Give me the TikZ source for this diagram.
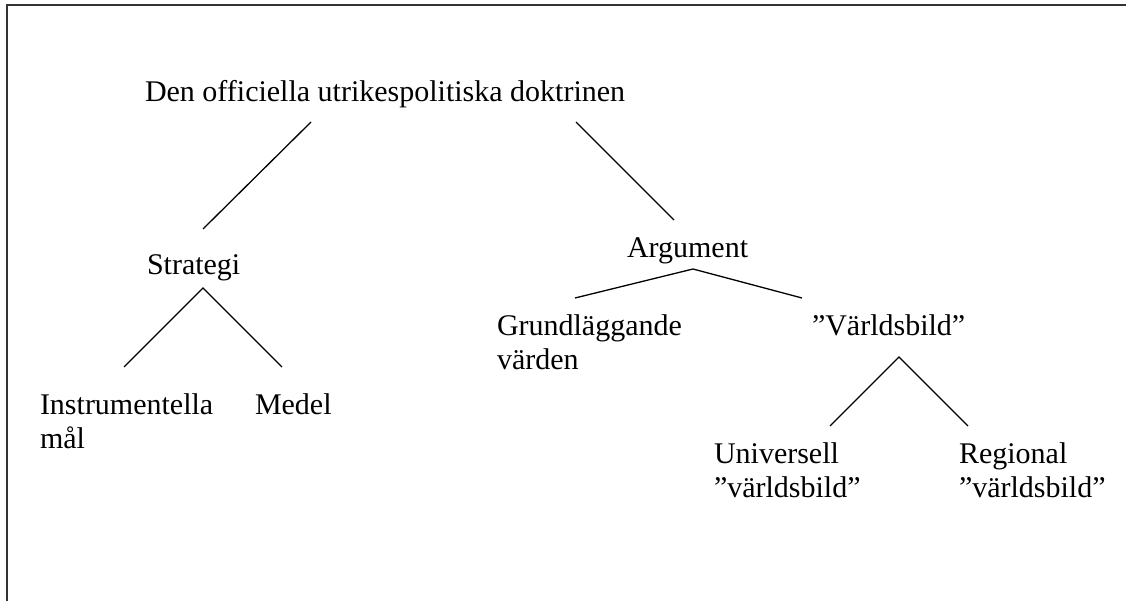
\documentclass[tikz,border=0pt]{standalone}
\usepackage{fontspec}
\setmainfont{Liberation Serif}
\begin{document}
\begin{tikzpicture}[x=1pt,y=-1pt,
  lbl/.style={anchor=base west,inner sep=0pt,outer sep=0pt,font=\fontsize{30}{34}\selectfont},
  conn/.style={line width=1.3pt,black},
  frame/.style={line width=1.6pt,black!80}]
\useasboundingbox (0,0) rectangle (1126,601);
% frame (top and left edges only)
\coordinate (fTL) at (7,5);
\coordinate (fTR) at (1126,5);
\coordinate (fBL) at (7,601);
\draw[frame] (fBL) -- (fTL) -- (fTR);
% texts
\node[lbl] (root) at (145,102) {Den officiella utrikespolitiska doktrinen};
\node[lbl] (strat) at (147,275) {Strategi};
\node[lbl] (arg) at (627,258) {Argument};
\node[lbl] (grund) at (497,335) {\begin{tabular}[t]{@{}l@{}}Grundläggande\\värden\end{tabular}};
\node[lbl] (varld) at (812,335) {”Världsbild”};
\node[lbl] (instr) at (40,414) {\begin{tabular}[t]{@{}l@{}}Instrumentella\\mål\end{tabular}};
\node[lbl] (medel) at (255,414) {Medel};
\node[lbl] (univ) at (714,463) {\begin{tabular}[t]{@{}l@{}}Universell\\”världsbild”\end{tabular}};
\node[lbl] (reg) at (959,463) {\begin{tabular}[t]{@{}l@{}}Regional\\”världsbild”\end{tabular}};
% connector end points
\coordinate (rootL) at (311,122);
\coordinate (stratT) at (203,229);
\coordinate (rootR) at (576,122);
\coordinate (argT) at (674,220);
\coordinate (stratB) at (203,288);
\coordinate (instrT) at (124,367);
\coordinate (medelT) at (282,367);
\coordinate (argB) at (693,269);
\coordinate (grundT) at (575,298);
\coordinate (varldT) at (802,298);
\coordinate (varldB) at (899,357);
\coordinate (univT) at (830,426);
\coordinate (regT) at (968,426);
% connectors
\draw[conn] (rootL) -- (stratT);
\draw[conn] (rootR) -- (argT);
\draw[conn] (instrT) -- (stratB) -- (medelT);
\draw[conn] (grundT) -- (argB) -- (varldT);
\draw[conn] (univT) -- (varldB) -- (regT);
\end{tikzpicture}
\end{document}
